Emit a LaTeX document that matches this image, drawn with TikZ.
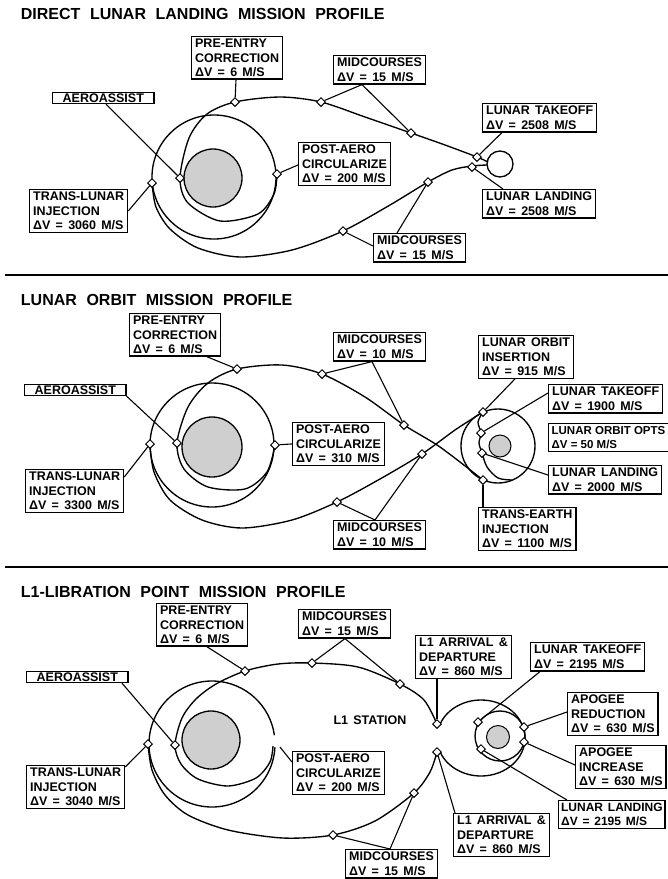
\documentclass[tikz,border=0pt]{standalone}
\usepackage{fontspec}
\setmainfont{Liberation Sans}
\usetikzlibrary{shapes.geometric, calc}
\definecolor{cstip}{HTML}{CFCFCF}
\newcommand\lblfont{\bfseries\fontsize{12.5}{14.3}\selectfont\spaceskip=.42em\relax}
\newcommand\optfont{\bfseries\fontsize{11.5}{14.3}\selectfont}
\newcommand\narrowfont{\bfseries\fontsize{12}{14.3}\selectfont\spaceskip=.4em\relax}
\newcommand\titlefont{\bfseries\fontsize{16}{19}\selectfont\spaceskip=.6em\relax}
\tikzset{
  every picture/.style={line width=1.2pt},
  lbl/.style={draw, fill=white, line width=1.3pt, align=left, anchor=north west, inner xsep=3.5pt, inner ysep=2.5pt, font=\lblfont},
  wp/.style={diamond, draw, fill=white, line width=1pt, inner sep=0pt, minimum size=9pt},
  traj/.style={line width=1.35pt},
  lead/.style={line width=1.1pt},
  title/.style={anchor=west, font=\titlefont},
  earth/.style={draw, fill=cstip, line width=1.3pt},
  sep/.style={line width=2pt},
}

\begin{document}
\begin{tikzpicture}[x=1pt, y=-1pt]
  \useasboundingbox (0,0) rectangle (668,879);
  % ---------- top: direct lunar landing ----------
  \node[title] (t1) at (17,14) {DIRECT LUNAR LANDING MISSION PROFILE};
  \draw[earth] (213,178) circle[radius=29];
  \draw[traj] (214,177) circle[radius=62];
  \draw[traj] (500,164) circle[radius=13];
  % return leg, aero pass
  \draw[traj] plot[smooth] coordinates {(488,162) (477,157) (445,145) (411,133) (365,117) (321,102) (280,97) (235,102) (207,114) (189,138) (180,178) (188,203) (220,221) (258,214) (274,194) (277,174)};
  % outbound leg
  \draw[traj] plot[smooth] coordinates {(152,183) (156,207) (170,229) (198,248) (240,257) (292,250) (343,231) (390,205) (428,182) (452,170) (472,166) (487,165)};
  \node[wp] (pe1) at (235,102) {};
  \node[wp] (mca1) at (321,102) {};
  \node[wp] (mcb1) at (411,133) {};
  \node[wp] (to1) at (477,157) {};
  \node[wp] (ld1) at (472,167) {};
  \node[wp] (mcc1) at (428,182) {};
  \node[wp] (mcd1) at (343,231) {};
  \node[wp] (aa1) at (180,178) {};
  \node[wp] (tli1) at (152,183) {};
  \node[wp] (pa1) at (277,174) {};
  \node[lbl] (pebox1) at (191,36) {PRE-ENTRY\\CORRECTION\\ΔV = 6 M/S};
  \node[lbl, inner xsep=10pt, inner ysep=1pt] (aabox1) at (52,92) {AEROASSIST};
  \node[lbl] (tlibox1) at (29,189) {TRANS-LUNAR\\INJECTION\\ΔV = 3060 M/S};
  \node[lbl] (mcbox1) at (333,55) {MIDCOURSES\\ΔV = 15 M/S};
  \node[lbl] (pabox1) at (298,142) {POST-AERO\\CIRCULARIZE\\ΔV = 200 M/S};
  \node[lbl] (tobox1) at (482,103) {LUNAR TAKEOFF\\ΔV = 2508 M/S};
  \node[lbl] (ldbox1) at (482,189) {LUNAR LANDING\\ΔV = 2508 M/S};
  \node[lbl] (mcbox1b) at (373,233) {MIDCOURSES\\ΔV = 15 M/S};
  \draw[lead] ($(pebox1.south west)+(45,0)$) -- (pe1);
  \draw[lead] ($(aabox1.south west)+(54,0)$) -- (aa1);
  \draw[lead] ($(tlibox1.north east)+(0,22)$) -- (tli1);
  \draw[lead] (mca1) -- ($(mcbox1.south west)+(29,0)$) -- (mcb1);
  \draw[lead] (pa1) -- ($(pabox1.north west)+(0,23)$);
  \draw[lead] ($(tobox1.south west)+(20,0)$) -- (to1);
  \draw[lead] ($(ldbox1.north west)+(21,0)$) -- (ld1);
  \draw[lead] (mcc1) -- ($(mcbox1b.north west)+(24,0)$);
  \draw[lead] ($(mcbox1b.north west)+(0,13)$) -- (mcd1);
  \draw[sep] (5,275) -- (668,275);

  % ---------- middle: lunar orbit ----------
  \node[title] (t2) at (17,300) {LUNAR ORBIT MISSION PROFILE};
  \draw[earth] (212,447) circle[radius=30];
  \draw[traj] (212,445) circle[radius=62];
  \draw[traj] (498,446) circle[radius=37];
  \draw[earth, line width=1pt] (500,446) circle[radius=11];
  \draw[traj] plot[smooth] coordinates {(483,480) (440,447) (404,425) (365,397) (322,374) (282,365) (237,369) (208,383) (188,407) (177,443) (184,469) (208,487) (245,489) (267,472) (275,445)};
  \draw[traj] plot[smooth] coordinates {(150,444) (154,472) (170,500) (202,520) (242,528) (292,520) (337,502) (380,479) (422,454) (455,430) (483,412)};
  \draw[traj] plot[smooth] coordinates {(483,412) (478,422) (481,433) (479,443) (482,453) (487,467) (498,478) (512,480)};
  \node[wp] (pe2) at (237,369) {};
  \node[wp] (mca2) at (322,374) {};
  \node[wp] (mcb2) at (404,425) {};
  \node[wp] (mcc2) at (422,454) {};
  \node[wp] (mcd2) at (337,502) {};
  \node[wp] (aa2) at (177,443) {};
  \node[wp] (tli2) at (150,444) {};
  \node[wp] (pa2) at (275,445) {};
  \node[wp] (loi2) at (483,412) {};
  \node[wp] (to2) at (481,433) {};
  \node[wp] (ld2) at (482,453) {};
  \node[wp] (tei2) at (483,480) {};
  \node[lbl] (pebox2) at (129,313) {PRE-ENTRY\\CORRECTION\\ΔV = 6 M/S};
  \node[lbl, inner xsep=10pt, inner ysep=1pt] (aabox2) at (24,384) {AEROASSIST};
  \node[lbl] (tlibox2) at (25,469) {TRANS-LUNAR\\INJECTION\\ΔV = 3300 M/S};
  \node[lbl] (mcbox2) at (333,332) {MIDCOURSES\\ΔV = 10 M/S};
  \node[lbl] (pabox2) at (292,422) {POST-AERO\\CIRCULARIZE\\ΔV = 310 M/S};
  \node[lbl] (mcbox2b) at (333,520) {MIDCOURSES\\ΔV = 10 M/S};
  \node[lbl] (loibox2) at (478,335) {LUNAR ORBIT\\INSERTION\\ΔV = 915 M/S};
  \node[lbl] (tobox2) at (548,384) {LUNAR TAKEOFF\\ΔV = 1900 M/S};
  \node[lbl, inner xsep=3pt, font=\optfont] (optbox2) at (548,423) {LUNAR ORBIT OPTS\\ΔV = 50 M/S};
  \node[lbl] (ldbox2) at (548,465) {LUNAR LANDING\\ΔV = 2000 M/S};
  \node[lbl] (teibox2) at (478,507) {TRANS-EARTH\\INJECTION\\ΔV = 1100 M/S};
  \draw[lead] ($(pebox2.south west)+(78,0)$) -- (pe2);
  \draw[lead] (aabox2.south east) -- (aa2);
  \draw[lead] ($(tlibox2.north east)+(0,8)$) -- (tli2);
  \draw[lead] (mca2) -- ($(mcbox2.south west)+(39,0)$) -- (mcb2);
  \draw[lead] (pa2) -- (pabox2.west);
  \draw[lead] (mcc2) -- ($(mcbox2b.north west)+(42,0)$) -- (mcd2);
  \draw[lead] ($(loibox2.south west)+(37,0)$) -- (loi2);
  \draw[lead] ($(tobox2.north west)+(0,9)$) -- (to2);
  \draw[lead] ($(ldbox2.north west)+(0,10)$) -- (ld2);
  \draw[lead] ($(teibox2.north west)+(5,0)$) -- (tei2);
  \draw[sep] (5,567) -- (668,567);

  % ---------- bottom: L1 libration point ----------
  \node[title] (t3) at (17,592) {L1-LIBRATION POINT MISSION PROFILE};
  \draw[earth] (211,740) circle[radius=29];
  \draw[traj] (212,744) ++(3:63) arc[start angle=3, end angle=352, radius=63];
  \draw[traj] plot[smooth] coordinates {(437,724) (424,700) (400,684) (358,667) (312,663) (278,664) (245,671) (216,684) (196,699) (182,718) (175,745) (181,764) (198,779) (228,786) (256,778) (270,762) (273,746)};
  \draw[traj] plot[smooth] coordinates {(148,744) (152,770) (165,795) (188,815) (228,830) (283,838) (333,835) (375,821) (414,793) (430,772) (437,752)};
  \draw[traj] (481,738) ++(201.6:44 and 38) arc[start angle=201.6, end angle=518.4, x radius=44, y radius=38];
  \draw[traj] (500,736) circle[radius=25];
  \draw[earth, line width=1pt] (498,737) circle[radius=11.5];
  \node[font=\lblfont] (st3) at (370,720) {L1 STATION};
  \node[wp] (pe3) at (245,671) {};
  \node[wp] (mca3) at (312,663) {};
  \node[wp] (mcb3) at (400,684) {};
  \node[wp] (l1u) at (437,724) {};
  \node[wp] (l1d) at (437,752) {};
  \node[wp] (mcc3) at (414,793) {};
  \node[wp] (mcd3) at (333,835) {};
  \node[wp] (aa3) at (175,745) {};
  \node[wp] (tli3) at (148,744) {};
  \node[wp] (to3) at (478,722) {};
  \node[wp] (ld3) at (481,749) {};
  \node[wp] (ar3) at (524,727) {};
  \node[wp] (ai3) at (524,742) {};
  \coordinate (pa3) at (280,747);
  \node[lbl] (pebox3) at (156,603) {PRE-ENTRY\\CORRECTION\\ΔV = 6 M/S};
  \node[lbl, inner xsep=10pt, inner ysep=1pt] (aabox3) at (26,671) {AEROASSIST};
  \node[lbl] (tlibox3) at (26,765) {TRANS-LUNAR\\INJECTION\\ΔV = 3040 M/S};
  \node[lbl] (mcbox3) at (298,609) {MIDCOURSES\\ΔV = 15 M/S};
  \node[lbl] (l1box3) at (415,635) {L1 ARRIVAL \&\\DEPARTURE\\ΔV = 860 M/S};
  \node[lbl] (tobox3) at (530,642) {LUNAR TAKEOFF\\ΔV = 2195 M/S};
  \node[lbl] (arbox3) at (567,692) {APOGEE\\REDUCTION\\ΔV = 630 M/S};
  \node[lbl] (aibox3) at (575,745) {APOGEE\\INCREASE\\ΔV = 630 M/S};
  \node[lbl, inner xsep=2.5pt, font=\narrowfont] (ldbox3) at (558,800) {LUNAR LANDING\\ΔV = 2195 M/S};
  \node[lbl] (l1box3b) at (453,813) {L1 ARRIVAL \&\\DEPARTURE\\ΔV = 860 M/S};
  \node[lbl] (pabox3) at (292,751) {POST-AERO\\CIRCULARIZE\\ΔV = 200 M/S};
  \node[lbl] (mcbox3b) at (345,849) {MIDCOURSES\\ΔV = 15 M/S};
  \draw[lead] ($(pebox3.south west)+(51,0)$) -- (pe3);
  \draw[lead] ($(aabox3.south west)+(96,0)$) -- (aa3);
  \draw[lead] ($(tlibox3.north east)+(0,2)$) -- (tli3);
  \draw[lead] (mca3) -- ($(mcbox3.south west)+(47,0)$) -- (mcb3);
  \draw[lead] ($(l1box3.south west)+(22,0)$) -- (l1u);
  \draw[lead] ($(tobox3.south west)+(10,0)$) -- (to3);
  \draw[lead] ($(arbox3.north west)+(0,20)$) -- (ar3);
  \draw[lead] ($(aibox3.north west)+(0,20)$) -- (ai3);
  \draw[lead] ($(ldbox3.north west)+(9,0)$) -- (ld3);
  \draw[lead] ($(l1box3b.north west)+(2,0)$) -- (l1d);
  \draw[lead] (pa3) -- ($(pabox3.north west)+(0,11)$);
  \draw[lead] (mcc3) -- ($(mcbox3b.north west)+(45,0)$) -- (mcd3);
\end{tikzpicture}
\end{document}
